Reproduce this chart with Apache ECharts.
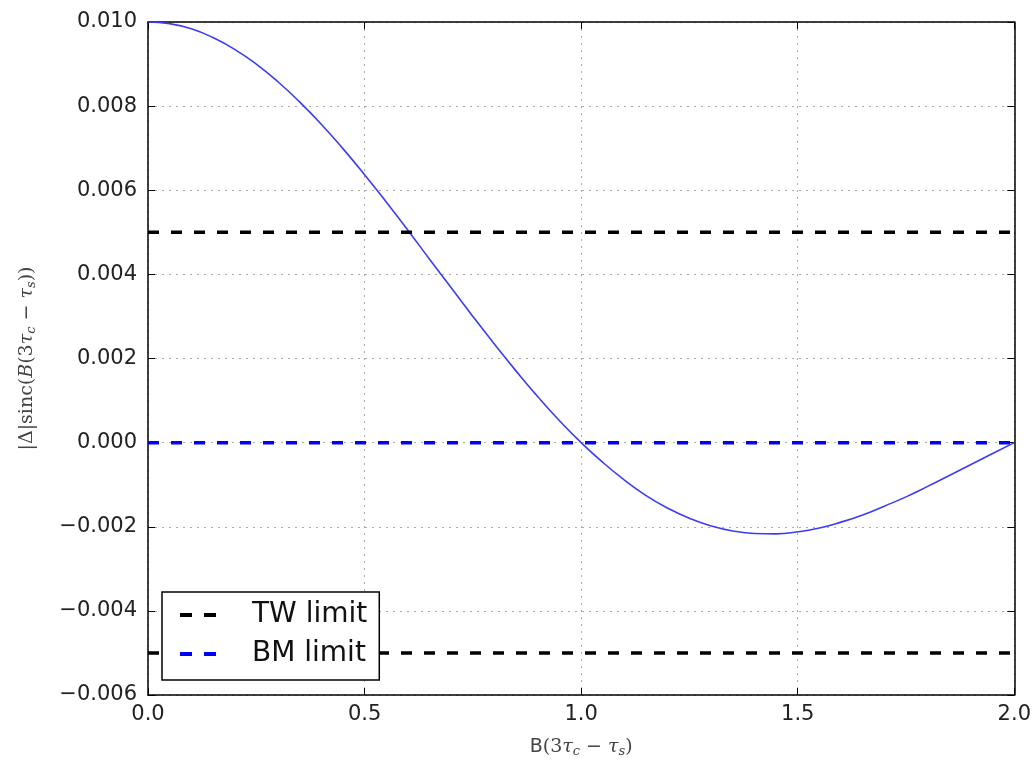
<html><head><meta charset='utf-8'>
<script src='https://cdn.jsdelivr.net/npm/echarts@6/dist/echarts.min.js'></script>
<style>
html,body{margin:0;padding:0;background:#fff;}
#container{width:1034px;height:764px;}
</style>
</head><body>
<div id="container"></div>
<script type="text/javascript">
// x positions and curve values
var xs = [0, 0.05, 0.1, 0.15, 0.2, 0.25, 0.3, 0.35, 0.4, 0.45, 0.5, 0.55, 0.6, 0.65, 0.7, 0.75, 0.8, 0.85, 0.9, 0.95,
          1.0, 1.05, 1.1, 1.15, 1.2, 1.25, 1.3, 1.35, 1.4, 1.45, 1.5, 1.55, 1.6, 1.65, 1.7, 1.75, 1.8, 1.85, 1.9, 1.95, 2.0];
var curve = [0.01, 0.00996, 0.00984, 0.00963, 0.00935, 0.009, 0.00858, 0.0081, 0.00757, 0.00699, 0.00637, 0.00572,
             0.00505, 0.00436, 0.00368, 0.003, 0.00234, 0.0017, 0.00109, 0.00052, 0,
             -0.00047, -0.00089, -0.00126, -0.00156, -0.0018, -0.00198, -0.0021, -0.00216, -0.00217, -0.00212,
             -0.00203, -0.00189, -0.00172, -0.00151, -0.00129, -0.00104, -0.00078, -0.00052, -0.00026, 0];
var twLimit = 0.005;
var bmLimit = 0.0;
var xRange = [0, 2];
var yRange = [-0.006, 0.010];

var container = document.getElementById('container');
var myChart = echarts.init(container);

function pairs(a, b) {
    var out = [];
    for (var i = 0; i < a.length; i++) out.push([a[i], b[i]]);
    return out;
}
function flat(v) {
    return [[xRange[0], v], [xRange[1], v]];
}

var tickFont = {fontFamily: 'DejaVu Sans', fontSize: 21, color: '#222'};
var mathRich = {
    m: {fontFamily: 'DejaVu Serif', fontSize: 19, color: '#444'},
    i: {fontFamily: 'DejaVu Serif', fontStyle: 'italic', fontSize: 19, color: '#444'},
    sub: {fontFamily: 'DejaVu Serif', fontStyle: 'italic', fontSize: 13, color: '#444', verticalAlign: 'bottom', padding: [8, 0, 0, 0]},
    s: {fontFamily: 'DejaVu Sans', fontSize: 19, color: '#444'}
};
var boxTick = {show: true, inside: true, length: 7, lineStyle: {color: '#000'}};
var boxLine = {show: true, onZero: false, lineStyle: {color: '#000', width: 1.5}};
var gridLine = {show: true, lineStyle: {color: '#aaa', type: [2, 5], width: 1}};
// two short dashes, like the legend sample of a dashed line
var dashIcon = 'path://M0,0h12v4h-12zM24,0h12v4h-12z';

var option = {
    animation: false,
    backgroundColor: '#fff',
    grid: {left: 148, top: 22, width: 869, height: 673},
    legend: {
        orient: 'vertical',
        left: 162, top: 592,
        padding: [9, 12, 12, 18],
        itemGap: 11,
        itemWidth: 36, itemHeight: 4,
        backgroundColor: '#fff',
        borderColor: '#000', borderWidth: 1.5, borderRadius: 0,
        textStyle: {fontFamily: 'DejaVu Sans', fontSize: 28, color: '#111', padding: [0, 0, 0, 31]},
        data: [
            {name: 'TW limit', icon: dashIcon, itemStyle: {color: '#000'}},
            {name: 'BM limit', icon: dashIcon, itemStyle: {color: '#0000ff'}}
        ]
    },
    xAxis: [{
        type: 'value', min: xRange[0], max: xRange[1], interval: 0.5,
        axisLine: boxLine,
        axisTick: boxTick,
        axisLabel: Object.assign({margin: 9, formatter: function (v) { return v.toFixed(1); }}, tickFont),
        splitLine: gridLine,
        name: '{s|B}{m|(3}{i|τ}{sub|c}{m| − }{i|τ}{sub|s}{m|)}',
        nameLocation: 'middle', nameGap: 42,
        nameTextStyle: {rich: mathRich}
    }, {
        type: 'value', position: 'top', min: xRange[0], max: xRange[1], interval: 0.5,
        axisLine: boxLine,
        axisTick: boxTick,
        axisLabel: {show: false}, splitLine: {show: false}
    }],
    yAxis: [{
        type: 'value', min: yRange[0], max: yRange[1], interval: 0.002,
        axisLine: boxLine,
        axisTick: boxTick,
        axisLabel: Object.assign({margin: 11, formatter: function (v) {
            return v.toFixed(3).replace('-', '\u2212');
        }}, tickFont),
        splitLine: gridLine,
        name: '{m|\u007CΔ\u007Csinc(}{i|B}{m|(3}{i|τ}{sub|c}{m| − }{i|τ}{sub|s}{m|))}',
        nameLocation: 'middle', nameGap: 110, nameRotate: 90,
        nameTextStyle: {rich: mathRich}
    }, {
        type: 'value', position: 'right', min: yRange[0], max: yRange[1], interval: 0.002,
        axisLine: boxLine,
        axisTick: boxTick,
        axisLabel: {show: false}, splitLine: {show: false}
    }],
    series: [{
        name: 'sinc',
        type: 'line', data: pairs(xs, curve),
        smooth: true, symbol: 'none',
        lineStyle: {color: '#3c3cf5', width: 1.6},
        z: 3
    }, {
        name: 'TW limit',
        type: 'line', data: flat(twLimit), symbol: 'none',
        lineStyle: {color: '#000', width: 3.5, type: [11, 12]},
        itemStyle: {color: '#000'}
    }, {
        name: 'TW limit',
        type: 'line', data: flat(-twLimit), symbol: 'none',
        lineStyle: {color: '#000', width: 3.5, type: [11, 12]},
        itemStyle: {color: '#000'}
    }, {
        name: 'BM limit',
        type: 'line', data: flat(bmLimit), symbol: 'none',
        lineStyle: {color: '#0000ff', width: 3.5, type: [11, 12]},
        itemStyle: {color: '#0000ff'}
    }]
};
myChart.setOption(option);
</script>
</body></html>
